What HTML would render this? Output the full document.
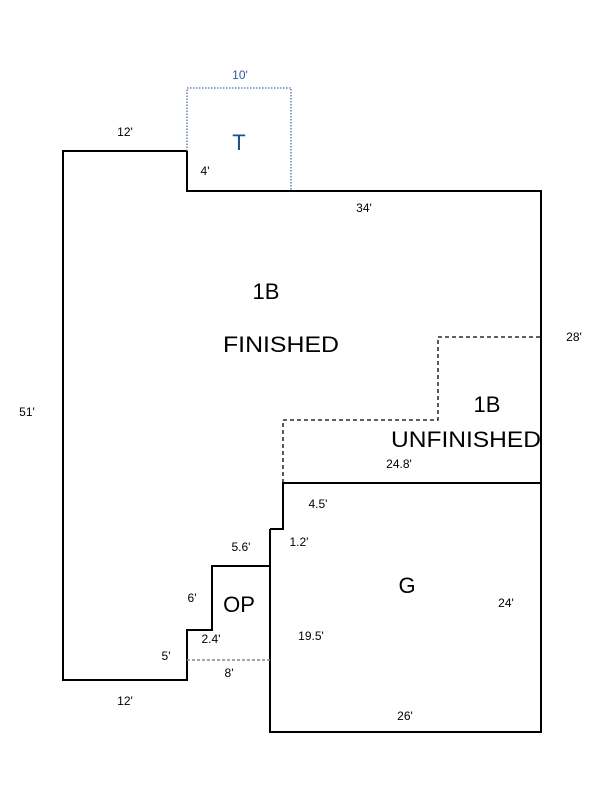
<!DOCTYPE html>
<html><head><meta charset="utf-8"><style>
html,body{margin:0;padding:0;background:#fff;}
svg{display:block;}
text{font-family:"Liberation Sans",sans-serif;fill:#000;}
.s{font-size:12px;}
.b{font-size:22px;}
</style></head><body>
<svg width="600" height="800" viewBox="0 0 600 800">
<g fill="none" stroke="#000" stroke-width="2">
<polyline points="187,151 63,151 63,680 187,680 187,630 212,630 212,566 270,566 270,732 541,732 541,191 187,191 187,151"/>
<polyline points="270,529 283,529 283,483 541,483"/>
<line x1="270" y1="566" x2="270" y2="529"/>
</g>
<g fill="none" stroke="#000" stroke-width="1.3" stroke-dasharray="4,3">
<polyline points="283,483 283,420 438,420 438,337 541,337"/>
</g>
<polyline points="187,151 187,88 291,88 291,191" fill="none" stroke="#4a6fa5" stroke-width="1.3" stroke-dasharray="1.5,1.5"/>
<line x1="187" y1="660" x2="270" y2="660" stroke="#888" stroke-width="1.5" stroke-dasharray="3,2"/>
<text x="240" y="79" class="s" text-anchor="middle" style="fill:#2a5a9a">10'</text>
<text x="239" y="150" class="b" text-anchor="middle" style="fill:#1f4e8c">T</text>
<text x="125" y="136" class="s" text-anchor="middle">12'</text>
<text x="205" y="175" class="s" text-anchor="middle">4'</text>
<text x="364" y="212" class="s" text-anchor="middle">34'</text>
<text x="266" y="299" class="b" text-anchor="middle">1B</text>
<text x="223" y="352" class="b" textLength="116" lengthAdjust="spacingAndGlyphs">FINISHED</text>
<text x="574" y="341" class="s" text-anchor="middle">28'</text>
<text x="487" y="412" class="b" text-anchor="middle">1B</text>
<text x="391" y="447" class="b" textLength="150" lengthAdjust="spacingAndGlyphs">UNFINISHED</text>
<text x="399" y="468" class="s" text-anchor="middle">24.8'</text>
<text x="27" y="416" class="s" text-anchor="middle">51'</text>
<text x="318" y="508" class="s" text-anchor="middle">4.5'</text>
<text x="299" y="546" class="s" text-anchor="middle">1.2'</text>
<text x="241" y="551" class="s" text-anchor="middle">5.6'</text>
<text x="192" y="602" class="s" text-anchor="middle">6'</text>
<text x="239" y="612" class="b" text-anchor="middle">OP</text>
<text x="407" y="593" class="b" text-anchor="middle">G</text>
<text x="506" y="607" class="s" text-anchor="middle">24'</text>
<text x="211" y="643" class="s" text-anchor="middle">2.4'</text>
<text x="311" y="640" class="s" text-anchor="middle">19.5'</text>
<text x="166" y="660" class="s" text-anchor="middle">5'</text>
<text x="229" y="677" class="s" text-anchor="middle">8'</text>
<text x="125" y="705" class="s" text-anchor="middle">12'</text>
<text x="405" y="720" class="s" text-anchor="middle">26'</text>
</svg>
</body></html>
